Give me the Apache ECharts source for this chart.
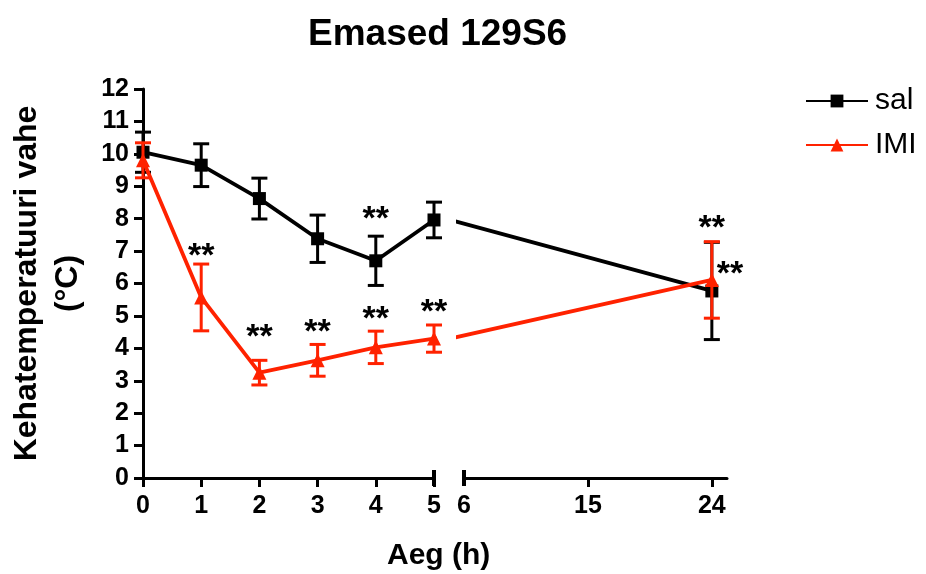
<!DOCTYPE html>
<html>
<head>
<meta charset="utf-8">
<script src="https://cdn.jsdelivr.net/npm/echarts@6/dist/echarts.min.js"></script>
<style>
  html, body { margin: 0; padding: 0; background: #fff; }
  #chart { width: 926px; height: 574px; }
</style>
</head>
<body>
<div id="chart"></div>
<script>
// time points (h) and group means / SEM
var hours = [0, 1, 2, 3, 4, 5, 24]
var salMean = [10.05, 9.65, 8.62, 7.38, 6.7, 7.96, 5.77]
var salErr = [0.62, 0.66, 0.63, 0.73, 0.76, 0.55, 1.5]
var imiMean = [9.8, 5.57, 3.25, 3.63, 4.03, 4.3, 6.11]
var imiErr = [0.54, 1.03, 0.38, 0.49, 0.5, 0.42, 1.18]

var firstTicks = [0, 1, 2, 3, 4, 5]
var secondTicks = [6, 15, 24]

// "**" marks: hour, height (°C) of the mark, placed above (0) or right of (1) it
var starHours = [4, 1, 2, 3, 4, 5, 24, 24]
var starLevels = [8.12, 6.98, 4.48, 4.63, 5.03, 5.25, 7.84, 6.42]
var starSide = [0, 0, 0, 0, 0, 0, 0, 1]

var font = "'Liberation Sans', Arial, sans-serif"
var black = '#000000'
var red = '#ff2200'

function pairs(mean) {
    return hours.map(function (h, i) { return [h, mean[i]] })
}
function errRows(mean, err) {
    return hours.map(function (h, i) { return [h, mean[i], err[i]] })
}
function starRows() {
    return starHours.map(function (h, i) { return [h, starLevels[i], starSide[i]] })
}

function inside(params, px) {
    var cs = params.coordSys
    return px >= cs.x - 1 && px <= cs.x + cs.width + 1
}

function errorBars(color) {
    return function (params, api) {
        var x = api.value(0), m = api.value(1), e = api.value(2)
        var mid = api.coord([x, m])
        if (!inside(params, mid[0])) return null
        var hi = api.coord([x, m + e])
        var lo = api.coord([x, m - e])
        var half = 8
        var st = { stroke: color, lineWidth: 3 }
        return {
            type: 'group',
            children: [
                { type: 'line', shape: { x1: mid[0], y1: hi[1], x2: mid[0], y2: lo[1] }, style: st },
                { type: 'line', shape: { x1: mid[0] - half, y1: hi[1], x2: mid[0] + half, y2: hi[1] }, style: st },
                { type: 'line', shape: { x1: mid[0] - half, y1: lo[1], x2: mid[0] + half, y2: lo[1] }, style: st }
            ]
        }
    }
}

function stars(params, api) {
    var x = api.value(0), y = api.value(1), side = api.value(2)
    var p = api.coord([x, y])
    if (!inside(params, p[0])) return null
    return {
        type: 'text',
        x: side ? p[0] + 5 : p[0],
        y: p[1] + 5,   // asterisks sit high in the text box
        style: {
            text: '**',
            fill: black,
            font: 'bold 34px ' + font,
            textAlign: side ? 'left' : 'center',
            textVerticalAlign: 'middle'
        }
    }
}

var chart = echarts.init(document.getElementById('chart'))

function hiddenY(idx) {
    return { type: 'value', gridIndex: idx, min: 0, max: 12, show: false, splitLine: { show: false } }
}

var axisLineStyle = { color: black, width: 3 }
var labelStyle = { color: black, fontSize: 25, fontWeight: 'bold', fontFamily: font }

function lineSeries(name, mean, color, symbol, size, grid, z) {
    return {
        name: name,
        type: 'line',
        xAxisIndex: grid,
        yAxisIndex: grid,
        data: pairs(mean),
        clip: true,
        symbol: symbol,
        symbolSize: size,
        z: z,
        lineStyle: { color: color, width: 3.8 },
        itemStyle: { color: color },
        animation: false
    }
}
function errSeries(name, mean, err, color, grid, z) {
    return {
        name: name,
        type: 'custom',
        xAxisIndex: grid,
        yAxisIndex: grid,
        data: errRows(mean, err),
        renderItem: errorBars(color),
        z: z,
        silent: true,
        animation: false
    }
}
function starSeries(grid) {
    return {
        name: 'stars',
        type: 'custom',
        xAxisIndex: grid,
        yAxisIndex: grid,
        data: starRows(),
        renderItem: stars,
        z: 5,
        silent: true,
        animation: false
    }
}

var option = {
    animation: false,
    title: [
        {
            text: 'Emased 129S6',
            left: 303,
            top: 11,
            textStyle: { color: black, fontSize: 37, fontWeight: 'bold', fontFamily: font }
        },
        {
            text: 'Aeg (h)',
            left: 382,
            top: 536,
            textStyle: { color: black, fontSize: 30, fontWeight: 'bold', fontFamily: font }
        }
    ],
    legend: {
        data: ['sal', 'IMI'],
        orient: 'vertical',
        left: 800,
        top: 81,
        itemWidth: 62,
        itemHeight: 16,
        itemGap: 14,
        textStyle: { color: black, fontSize: 30, fontFamily: font, padding: [0, 0, 0, 2] }
    },
    grid: [
        { left: 143, top: 89, width: 291, height: 389, outerBoundsMode: 'none' },   // 0-5 h
        { left: 464, top: 89, width: 263, height: 389, outerBoundsMode: 'none' },   // 6-24 h axis
        { left: 458, top: 89, width: 269, height: 389, outerBoundsMode: 'none' }    // 6-24 h data (clip)
    ],
    xAxis: [
        {
            type: 'value', gridIndex: 0, min: 0, max: 5, interval: 1,
            axisLine: { show: true, lineStyle: axisLineStyle, symbol: ['none', 'rect'], symbolSize: [16, 4] },
            axisTick: { show: true, length: 9, lineStyle: { color: black, width: 3 } },
            axisLabel: Object.assign({ margin: 16, customValues: firstTicks }, labelStyle),
            splitLine: { show: false }
        },
        {
            type: 'value', gridIndex: 1, min: 6, max: 25.1,
            axisLine: { show: true, lineStyle: axisLineStyle, symbol: ['rect', 'none'], symbolSize: [16, 4] },
            axisTick: { show: true, length: 9, lineStyle: { color: black, width: 3 }, customValues: secondTicks.slice(1) },
            axisLabel: Object.assign({ margin: 16, customValues: secondTicks, showMinLabel: true, showMaxLabel: true }, labelStyle),
            splitLine: { show: false }
        },
        {
            type: 'value', gridIndex: 2, min: 5.565, max: 25.1, show: false, splitLine: { show: false }
        }
    ],
    yAxis: [
        {
            type: 'value', gridIndex: 0, min: 0, max: 12, interval: 1,
            name: 'Kehatemperatuuri vahe\n(°C)',
            nameLocation: 'middle',
            nameRotate: 90,
            nameGap: 54,
            nameTextStyle: { color: black, fontSize: 32, fontWeight: 'bold', fontFamily: font, lineHeight: 41, align: 'center' },
            axisLine: { show: true, lineStyle: axisLineStyle },
            axisTick: { show: true, length: 9, lineStyle: { color: black, width: 3 } },
            axisLabel: Object.assign({ margin: 14 }, labelStyle),
            splitLine: { show: false }
        },
        hiddenY(1),
        hiddenY(2)
    ],
    series: [
        errSeries('salErr', salMean, salErr, black, 0, 2),
        errSeries('salErr', salMean, salErr, black, 2, 2),
        lineSeries('sal', salMean, black, 'rect', 13, 0, 2),
        lineSeries('sal', salMean, black, 'rect', 13, 2, 2),
        errSeries('imiErr', imiMean, imiErr, red, 0, 3),
        errSeries('imiErr', imiMean, imiErr, red, 2, 3),
        lineSeries('IMI', imiMean, red, 'triangle', 14, 0, 3),
        lineSeries('IMI', imiMean, red, 'triangle', 14, 2, 3),
        starSeries(0),
        starSeries(2)
    ]
}

chart.setOption(option)
</script>
</body>
</html>
